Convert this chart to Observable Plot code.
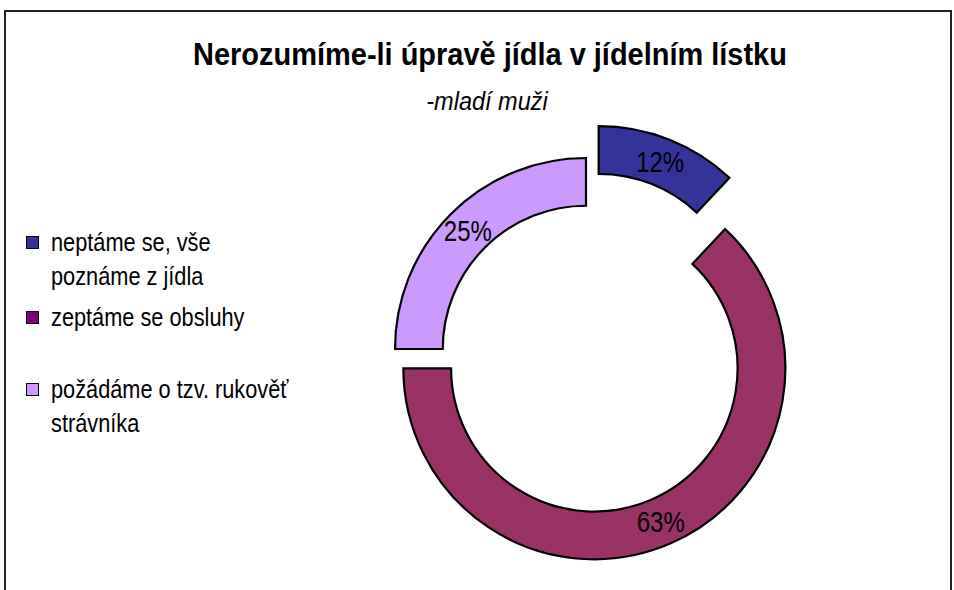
<!DOCTYPE html>
<html><head><meta charset="utf-8">
<script src="https://cdn.jsdelivr.net/npm/d3@7"></script>
<script src="https://cdn.jsdelivr.net/npm/@observablehq/plot@0.6"></script>
<style>
html,body{margin:0;padding:0;background:#fff;}
#wrap{position:relative;width:954px;height:590px;overflow:hidden;font-family:"Liberation Sans",Arial,sans-serif;color:#000;}
#frame{position:absolute;left:4px;top:10px;width:948px;height:620px;border:2px solid #222;box-sizing:border-box;}
#chart{position:absolute;left:0;top:0;}
#title{position:absolute;left:0;width:980px;text-align:center;top:34px;font-weight:bold;font-size:32px;line-height:40px;white-space:nowrap;transform:scaleX(0.905);transform-origin:490px 0;}
#subtitle{position:absolute;left:0;width:974px;text-align:center;top:86px;font-style:italic;font-size:25px;line-height:30px;white-space:nowrap;transform:scaleX(0.94);transform-origin:487px 0;}
.sw{position:absolute;left:26px;width:11px;height:11px;border:1.5px solid #000;}
.lt{position:absolute;left:51px;font-size:25px;line-height:34px;white-space:nowrap;transform:scaleX(0.87);transform-origin:0 0;}
</style></head>
<body><div id="wrap">
<div id="frame"></div>
<div id="chart"></div>
<div id="title"></div>
<div id="subtitle"></div>
<div id="legend"></div>
</div>
<script>
// ---- data ----
const titleText = "Nerozumíme-li úpravě jídla v jídelním lístku";
const subtitleText = "-mladí muži";
const categories = ["neptáme se, vše poznáme z jídla", "zeptáme se obsluhy", "požádáme o tzv. rukověť strávníka"];
const legendLines = [["neptáme se, vše", "poznáme z jídla"], ["zeptáme se obsluhy"], ["požádáme o tzv. rukověť", "strávníka"]];
const values = [12, 63, 25];
const sliceColors = ["#333399", "#993366", "#CC99FF"];
const legendColors = ["#333399", "#800080", "#CC99FF"];
const explode = [0.18, 0.11, 0]; // explosion as fraction of outer radius
const innerRatio = 0.75;

document.getElementById("title").textContent = titleText;
document.getElementById("subtitle").textContent = subtitleText;

// legend
const legend = document.getElementById("legend");
const itemTops = [226, 301, 373];
legendLines.forEach((lines, i) => {
  const sw = document.createElement("div");
  sw.className = "sw";
  sw.style.top = (itemTops[i] + 10) + "px";
  sw.style.background = legendColors[i];
  legend.appendChild(sw);
  lines.forEach((t, j) => {
    const d = document.createElement("div");
    d.className = "lt";
    d.style.top = (itemTops[i] - 1 + j * 34) + "px";
    d.textContent = t;
    legend.appendChild(d);
  });
});

// slices
const total = d3.sum(values);
const pie = d3.pie().sort(null).value(d => d.value);
const data = pie(categories.map((c, i) => ({category: c, value: values[i], color: sliceColors[i], explode: explode[i]})));
data.forEach(d => {
  d.mid = (d.startAngle + d.endAngle) / 2;
  d.label = Math.round(d.data.value / total * 100) + "%";
  const r = d.data.explode + (1 + innerRatio) / 2;
  d.lx = Math.sin(d.mid) * r;
  d.ly = Math.cos(d.mid) * r;
});

function getScales(args) {
  return args.find(a => a && typeof a.x === "function" && typeof a.y === "function");
}

function arcMark(...args) {
  const {x, y} = getScales(args);
  const R = Math.abs(x(1) - x(0));
  const arc = d3.arc().outerRadius(R).innerRadius(R * innerRatio);
  const g = d3.create("svg:g");
  g.selectAll("path").data(data).join("path")
    .attr("d", arc)
    .attr("fill", d => d.data.color)
    .attr("stroke", "#000")
    .attr("stroke-width", 2.2)
    .attr("stroke-linejoin", "miter")
    .attr("transform", d => `translate(${x(Math.sin(d.mid) * d.data.explode)},${y(Math.cos(d.mid) * d.data.explode)})`);
  return g.node();
}

function labelMark(...args) {
  const {x, y} = getScales(args);
  const g = d3.create("svg:g")
    .attr("font-family", "Liberation Sans, Arial, sans-serif")
    .attr("font-size", 30)
    .attr("text-anchor", "middle");
  g.selectAll("text").data(data).join("text")
    .attr("transform", d => `translate(${x(d.lx)},${y(d.ly)}) scale(0.8,1)`)
    .attr("dy", "0.35em")
    .attr("fill", "#000")
    .text(d => d.label);
  return g.node();
}

const plot = Plot.plot({
  width: 954,
  height: 590,
  margin: 0,
  x: {domain: [-1, 1], range: [586 - 191, 586 + 191], axis: null},
  y: {domain: [-1, 1], range: [349 + 191, 349 - 191], axis: null},
  style: {background: "transparent", overflow: "visible"},
  marks: [arcMark, labelMark]
});
document.getElementById("chart").appendChild(plot);
</script>
</body></html>
